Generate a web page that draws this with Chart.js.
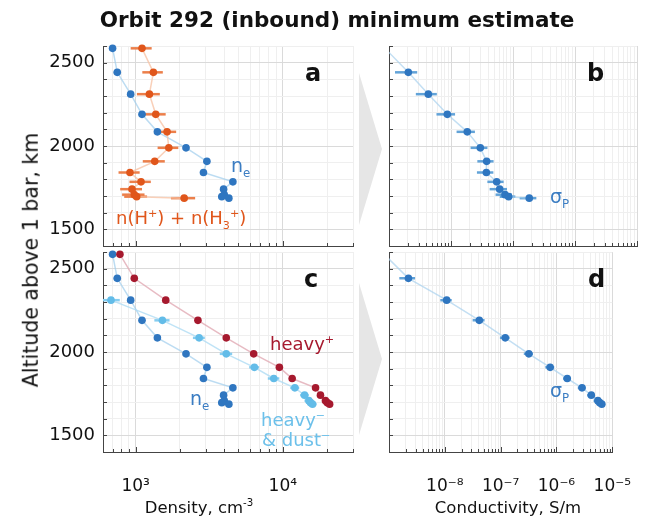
<!DOCTYPE html>
<html lang="en">
<head>
<meta charset="UTF-8">
<title>Orbit 292 (inbound) minimum estimate</title>
<style>
  body { margin: 0; background: #fff; font-family: "DejaVu Sans", sans-serif; }
  #wrap { position: relative; width: 655px; height: 519px; overflow: hidden; }
  #wrap canvas { position: absolute; left: 0; top: 0; }
  .txt { position: absolute; white-space: nowrap; line-height: 1; }
  .txt sub, .txt sup { font-size: 62%; line-height: 0; }
  .arrow { position: absolute; width: 23px; background: #e6e6e6; clip-path: polygon(0 0, 100% 50%, 0 100%); }
  .letter { font-weight: bold; font-size: 24px; color: #111; }
</style>
</head>
<body>
<div id="wrap">
  <div class="arrow" style="left:359px; top:73px; height:152px;"></div>
  <div class="arrow" style="left:359px; top:283px; height:152px;"></div>

  <canvas id="panelA" width="655" height="519"></canvas>
  <canvas id="panelB" width="655" height="519"></canvas>
  <canvas id="panelC" width="655" height="519"></canvas>
  <canvas id="panelD" width="655" height="519"></canvas>

  <div class="txt" style="left:337px; top:9px; transform:translateX(-50%); font-size:21.5px; font-weight:bold; color:#111;">Orbit 292 (inbound) minimum estimate</div>
  <div class="txt" style="left:31px; top:260px; transform:translate(-50%,-50%) rotate(-90deg); font-size:20.5px; color:#111;">Altitude above 1 bar, km</div>
  <div class="txt" style="left:199px; top:508px; transform:translate(-50%,-50%); font-size:16.5px; color:#111;">Density, cm<sup>-3</sup></div>
  <div class="txt" style="left:508px; top:508px; transform:translate(-50%,-50%); font-size:16.5px; color:#111;">Conductivity, S/m</div>

  <div class="txt letter" style="left:305px; top:61px;">a</div>
  <div class="txt letter" style="left:587px; top:61px;">b</div>
  <div class="txt letter" style="left:304px; top:267px;">c</div>
  <div class="txt letter" style="left:588px; top:267px;">d</div>

  <div class="txt" style="left:231px; top:156px; font-size:19px; color:#3a7cc2;">n<sub>e</sub></div>
  <div class="txt" style="left:116px; top:209px; font-size:18px; color:#e0561b;">n(H<sup>+</sup>) + n(H<sub>3</sub><sup>+</sup>)</div>
  <div class="txt" style="left:550px; top:187px; font-size:19px; color:#3a7cc2;">σ<sub>P</sub></div>
  <div class="txt" style="left:270px; top:335px; font-size:18px; color:#a6192e;">heavy<sup>+</sup></div>
  <div class="txt" style="left:190px; top:389px; font-size:19px; color:#3a7cc2;">n<sub>e</sub></div>
  <div class="txt" style="left:261px; top:411px; font-size:18px; color:#6cc0ea;">heavy<sup>−</sup></div>
  <div class="txt" style="left:262px; top:431px; font-size:18px; color:#6cc0ea;">&amp; dust<sup>−</sup></div>
  <div class="txt" style="left:550px; top:381px; font-size:19px; color:#3a7cc2;">σ<sub>P</sub></div>
</div>

<script src="https://cdn.jsdelivr.net/npm/chart.js@4.4.1/dist/chart.umd.min.js"></script>
<script>
// altitude levels (km above 1 bar), shared by every profile
const altitude = [2586, 2442, 2311, 2190, 2085, 1989, 1908, 1841, 1785, 1741, 1708, 1696, 1687];

// densities, cm^-3
const neDensity   = [697, 750, 925, 1105, 1405, 2200, 3050, 2890, 4580, 3960, 4000, 3850, 4300];
const neErr       = [35, 40, 45, 55, 70, 110, 150, 145, 230, 200, 200, 190, 215];
const hIonDensity = [1105, 1320, 1240, 1370, 1635, 1680, 1348, 915, 1088, 945, 979, 1016, 2137];
const hIonErr     = [180, 210, 220, 230, 250, 270, 230, 150, 180, 160, 170, 180, 400];
const heavyPos    = [782, 979, 1602, 2650, 4130, 6340, 9480, 11580, 16700, 18030, 19500, 20060, 20800];
const heavyPosErr = [30, 40, 60, 100, 160, 250, 380, 460, 650, 700, 760, 780, 800];
const heavyNeg    = [null, null, 680, 1520, 2700, 4130, 6410, 8690, 12080, 14060, 15040, 15450, 15920];
const heavyNegErr = [null, null, 100, 180, 250, 400, 500, 780, 850, 950, 1000, 1000, 1050];

// Pedersen conductivity, S/m
const sigmaB    = [8.6e-10, 2.05e-9, 4.31e-9, 8.73e-9, 1.83e-8, 2.97e-8, 3.76e-8, 3.72e-8, 5.46e-8, 6.10e-8, 7.43e-8, 8.51e-8, 1.83e-7];
const sigmaBErr = [1.0e-10, 8e-10, 1.6e-9, 2.9e-9, 6e-9, 9e-9, 1.1e-8, 1.1e-8, 1.6e-8, 1.9e-8, 2.2e-8, 2.4e-8, 5.5e-8];
const sigmaD    = [8.2e-10, 2.23e-9, 1.08e-8, 4.15e-8, 1.21e-7, 3.20e-7, 7.71e-7, 1.56e-6, 2.87e-6, 4.21e-6, 5.52e-6, 5.95e-6, 6.48e-6];
const sigmaDErr = [1.0e-10, 7e-10, 2.5e-9, 1e-8, 2.4e-8, 6e-8, 1.4e-7, 2.5e-7, 4.6e-7, 6.7e-7, 9e-7, 1e-6, 1e-6];

// axis ranges and labelled ticks
const altRange = [1400, 2600];
const altLabels = [1500, 2000, 2500];
const densityRange = [600, 30000];
const densityLabels = [1e3, 1e4];
const conductRange = [1e-9, 1e-5];
const conductLabels = [1e-8, 1e-7, 1e-6, 1e-5];

const SUP = {'-': '⁻', '0': '⁰', '1': '¹', '2': '²', '3': '³', '4': '⁴', '5': '⁵', '6': '⁶', '7': '⁷', '8': '⁸', '9': '⁹'};

function isDecade(v) {
    const l = Math.log10(v);
    return Math.abs(l - Math.round(l)) < 1e-6;
}

function profile(values, errs, color, errColor, lineColor) {
    const pts = [], e = [];
    values.forEach(function (v, i) {
        if (v === null) return;
        pts.push({x: v, y: altitude[i]});
        e.push(errs[i]);
    });
    return {
        data: pts,
        xErr: e,
        errColor: errColor,
        showLine: true,
        borderColor: lineColor,
        borderWidth: 1.5,
        pointRadius: 3.8,
        pointBorderWidth: 0,
        pointBackgroundColor: color,
        pointBorderColor: color,
        clip: {left: 0, top: 6, right: 0, bottom: 0}
    };
}

// horizontal error bars, drawn under the markers
const errorBars = {
    id: 'errorBars',
    beforeDatasetsDraw(chart) {
        const ctx = chart.ctx, a = chart.chartArea;
        const x = chart.scales.x, y = chart.scales.y;
        ctx.save();
        ctx.beginPath();
        ctx.rect(a.left, a.top - 6, a.right - a.left, a.bottom - a.top + 6);
        ctx.clip();
        ctx.lineWidth = 2.5;
        chart.data.datasets.forEach(function (ds) {
            ctx.strokeStyle = ds.errColor;
            ds.data.forEach(function (p, i) {
                const err = ds.xErr[i];
                const lo = Math.max(p.x - err, p.x * 0.05);
                const py = y.getPixelForValue(p.y);
                ctx.beginPath();
                ctx.moveTo(x.getPixelForValue(lo), py);
                ctx.lineTo(x.getPixelForValue(p.x + err), py);
                ctx.stroke();
            });
        });
        ctx.restore();
    }
};

// small inward tick marks on the left and bottom axes
const innerTicks = {
    id: 'innerTicks',
    afterDatasetsDraw(chart) {
        const ctx = chart.ctx, a = chart.chartArea;
        const x = chart.scales.x, y = chart.scales.y;
        ctx.save();
        ctx.strokeStyle = '#444';
        ctx.lineWidth = 1;
        y.ticks.forEach(function (t) {
            const py = Math.round(y.getPixelForValue(t.value)) + 0.5;
            ctx.beginPath();
            ctx.moveTo(a.left, py);
            ctx.lineTo(a.left + 4, py);
            ctx.stroke();
        });
        x.ticks.forEach(function (t) {
            const px = Math.round(x.getPixelForValue(t.value)) + 0.5;
            ctx.beginPath();
            ctx.moveTo(px, a.bottom);
            ctx.lineTo(px, a.bottom - (isDecade(t.value) ? 5 : 3));
            ctx.stroke();
        });
        ctx.restore();
    }
};

function logTicks(scale) {
    const out = [];
    const e0 = Math.floor(Math.log10(scale.min)), e1 = Math.ceil(Math.log10(scale.max));
    for (let e = e0; e <= e1; e++) {
        for (let m = 1; m <= 9; m++) {
            const v = Number((m * Math.pow(10, e)).toPrecision(3));
            if (v >= scale.min * 0.999 && v <= scale.max * 1.001) out.push({value: v});
        }
    }
    scale.ticks = out;
}

function makePanel(id, box, xRange, xLabels, showY, showX, datasets) {
    const yW = showY ? 56 : 0;
    const xH = showX ? 44 : 0;
    return new Chart(document.getElementById(id), {
        type: 'scatter',
        data: {datasets: datasets},
        plugins: [errorBars, innerTicks],
        options: {
            responsive: false,
            animation: false,
            events: [],
            layout: {
                padding: {left: box[0] - yW, top: box[1], right: 655 - box[2], bottom: 519 - box[3] - xH}
            },
            plugins: {legend: {display: false}, tooltip: {enabled: false}},
            scales: {
                x: {
                    type: 'logarithmic',
                    min: xRange[0],
                    max: xRange[1],
                    afterBuildTicks: logTicks,
                    afterFit: function (s) { s.height = xH; },
                    border: {color: '#444', width: 1},
                    grid: {
                        drawTicks: false,
                        color: function (c) { return c.tick && isDecade(c.tick.value) ? '#dadada' : '#efefef'; }
                    },
                    ticks: {
                        display: showX,
                        autoSkip: false,
                        maxRotation: 0,
                        padding: 24,
                        color: '#111',
                        font: {family: 'DejaVu Sans', size: 17},
                        callback: function (v) {
                            const hit = xLabels.some(function (l) { return Math.abs(Math.log10(l) - Math.log10(v)) < 1e-6; });
                            if (!hit) return '';
                            const e = String(Math.round(Math.log10(v)));
                            return '10' + e.split('').map(function (c) { return SUP[c]; }).join('');
                        }
                    }
                },
                y: {
                    min: altRange[0],
                    max: altRange[1],
                    afterFit: function (s) { s.width = yW; },
                    border: {color: '#444', width: 1},
                    grid: {
                        drawTicks: false,
                        color: function (c) { return c.tick && altLabels.indexOf(c.tick.value) >= 0 ? '#dadada' : '#efefef'; }
                    },
                    ticks: {
                        display: showY,
                        stepSize: 100,
                        autoSkip: false,
                        padding: 8,
                        color: '#111',
                        font: {family: 'DejaVu Sans', size: 18},
                        callback: function (v) { return altLabels.indexOf(v) >= 0 ? String(v) : ''; }
                    }
                }
            }
        }
    });
}

const neBlue = ['#2f76c0', '#4a8fd0', 'rgba(160,205,236,0.7)'];

makePanel('panelA', [103, 46, 353, 246], densityRange, densityLabels, true, false, [
    profile(hIonDensity, hIonErr, '#e0561b', '#ec7f4a', 'rgba(247,196,168,0.8)'),
    profile(neDensity, neErr, neBlue[0], neBlue[1], neBlue[2])
]);

makePanel('panelB', [389, 46, 637, 246], conductRange, conductLabels, false, false, [
    profile(sigmaB, sigmaBErr, '#2f76c0', '#62a3d8', 'rgba(170,210,238,0.7)')
]);

makePanel('panelC', [103, 252, 353, 452], densityRange, densityLabels, true, true, [
    profile(heavyPos, heavyPosErr, '#a6192e', '#b8344a', 'rgba(225,170,180,0.8)'),
    profile(heavyNeg, heavyNegErr, '#63bce8', '#86cdf0', 'rgba(175,220,244,0.8)'),
    profile(neDensity, neErr, neBlue[0], neBlue[1], neBlue[2])
]);

makePanel('panelD', [389, 252, 637, 452], conductRange, conductLabels, false, true, [
    profile(sigmaD, sigmaDErr, '#2f76c0', '#62a3d8', 'rgba(170,210,238,0.7)')
]);
</script>
</body>
</html>
